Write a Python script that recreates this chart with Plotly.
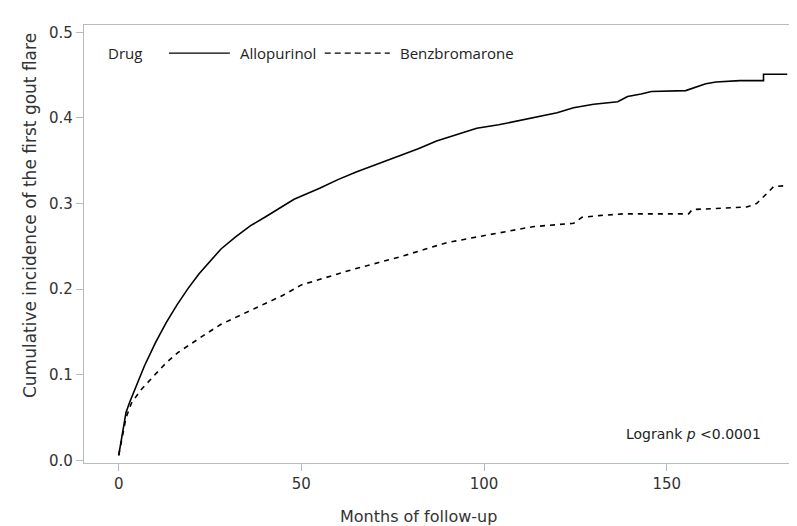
import plotly.graph_objects as go

# ---- data ----
series_names = ["Allopurinol", "Benzbromarone"]

months_allo = [0, 1, 2, 3, 4, 5.5, 7, 10, 13, 16, 19, 22, 25, 28, 32, 36, 40, 44, 48, 55, 60, 65,
               70, 76, 82, 87, 93, 98, 104, 110, 115, 120, 124.5, 130, 136.6, 139.3, 143, 145.8,
               155.2, 160.7, 163.5, 170, 176.5, 176.5, 183]
cuminc_allo = [0.006, 0.032, 0.056, 0.068, 0.079, 0.095, 0.110, 0.137, 0.161, 0.182, 0.201, 0.218,
               0.233, 0.247, 0.261, 0.274, 0.284, 0.295, 0.305, 0.318, 0.328, 0.337, 0.345, 0.355,
               0.364, 0.373, 0.381, 0.388, 0.392, 0.397, 0.401, 0.406, 0.412, 0.416, 0.419, 0.425,
               0.428, 0.431, 0.432, 0.440, 0.442, 0.4436, 0.4436, 0.451, 0.451]

months_benz = [0, 1, 2, 3.5, 6, 9.9, 13, 16.2, 20, 23.6, 28, 31.8, 36, 40, 45, 50, 57, 64, 71,
               78, 84, 90, 98, 105.9, 113.3, 124.5, 126.8, 131.5, 138, 156, 157, 171.9, 174.6, 177,
               179.3, 183]
cuminc_benz = [0.006, 0.03, 0.05, 0.067, 0.082, 0.100, 0.114, 0.126, 0.137, 0.147, 0.159, 0.167,
               0.175, 0.183, 0.193, 0.205, 0.214, 0.223, 0.231, 0.239, 0.247, 0.2545, 0.261,
               0.267, 0.273, 0.277, 0.284, 0.286, 0.288, 0.288, 0.293, 0.296, 0.300, 0.310,
               0.320, 0.321]

x_ticks = [0, 50, 100, 150]
y_ticks = [0.0, 0.1, 0.2, 0.3, 0.4, 0.5]

x_title = "Months of follow-up"
y_title = "Cumulative incidence of the first gout flare"
stat_text = "Logrank <i>p</i> <0.0001"
legend_title = "Drug"

AX_FONT = "DejaVu Sans, sans-serif"
LEG_FONT = "Open Sans, sans-serif"
FRAME = "#b3bbc3"
TXT = "#333333"

fig = go.Figure()
fig.add_trace(go.Scatter(x=months_allo, y=cuminc_allo, mode="lines", name=series_names[0],
                         line=dict(color="black", width=1.6), showlegend=False))
fig.add_trace(go.Scatter(x=months_benz, y=cuminc_benz, mode="lines", name=series_names[1],
                         line=dict(color="black", width=1.6, dash="5px,5px"),
                         showlegend=False))

# ---- inset legend (SAS style) ----
leg_y = 0.936
leg_font = dict(family=LEG_FONT, size=15, color="#222")
fig.add_annotation(xref="paper", yref="paper", x=0.031, y=leg_y, text=legend_title, showarrow=False,
                   xanchor="left", yanchor="middle", font=leg_font)
fig.add_shape(type="line", xref="paper", yref="paper", x0=0.120, x1=0.206, y0=leg_y, y1=leg_y,
              line=dict(color="black", width=1.3))
fig.add_annotation(xref="paper", yref="paper", x=0.2175, y=leg_y, text=series_names[0], showarrow=False,
                   xanchor="left", yanchor="middle", font=leg_font)
fig.add_shape(type="line", xref="paper", yref="paper", x0=0.340, x1=0.432, y0=leg_y, y1=leg_y,
              line=dict(color="black", width=1.3, dash="6px,4px"))
fig.add_annotation(xref="paper", yref="paper", x=0.4435, y=leg_y, text=series_names[1], showarrow=False,
                   xanchor="left", yanchor="middle", font=leg_font)

fig.add_annotation(xref="paper", yref="paper", x=0.959, y=0.066, text=stat_text,
                   showarrow=False, xanchor="right", yanchor="middle",
                   font=dict(family=AX_FONT, size=14, color="#222"))

# axis titles as annotations so their placement matches the reference
fig.add_annotation(xref="paper", yref="paper", x=0.472, y=-0.123, text=x_title, showarrow=False,
                   xanchor="center", yanchor="middle", font=dict(family=AX_FONT, size=16, color=TXT))
fig.add_annotation(xref="paper", yref="paper", x=-0.0763, y=0.566, text=y_title, showarrow=False,
                   textangle=-90, xanchor="center", yanchor="middle",
                   font=dict(family=AX_FONT, size=17, color=TXT))

fig.update_layout(
    width=797, height=526,
    margin=dict(l=76, r=13, t=17, b=71),
    paper_bgcolor="white", plot_bgcolor="white",
    font=dict(family=AX_FONT, color=TXT),
    xaxis=dict(range=[-9.5, 184.3], tickvals=x_ticks, ticks="outside", ticklen=7, tickcolor=FRAME,
               showline=True, linecolor=FRAME, linewidth=1.2, mirror=True, showgrid=False,
               zeroline=False, tickfont=dict(size=15, color=TXT)),
    yaxis=dict(range=[-0.003, 0.5086], tickvals=y_ticks, tickformat=".1f", ticks="outside",
               ticklen=7, tickcolor=FRAME, showline=True, linecolor=FRAME, linewidth=1.2,
               mirror=True, showgrid=False, zeroline=False, tickfont=dict(size=15, color=TXT)),
)

fig.write_html("out.html")
